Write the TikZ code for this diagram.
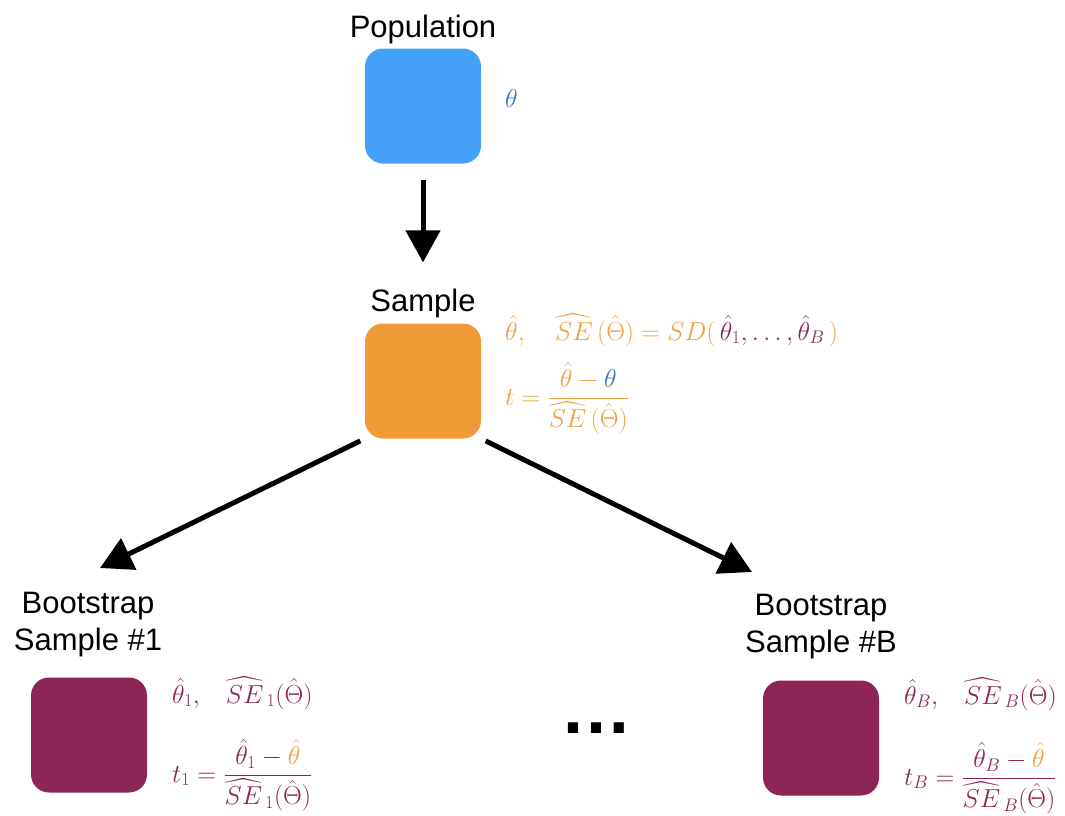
\RequirePackage{fix-cm}
\documentclass[tikz,border=0pt]{standalone}
\usepackage{amsmath}
\usepackage{fontspec}
\newfontfamily\labfont{Liberation Sans}
\usetikzlibrary{arrows.meta}
\definecolor{popblue}{HTML}{44A1F7}
\definecolor{sampor}{HTML}{F19A38}
\definecolor{bootpur}{HTML}{8B2657}
\definecolor{thetablue}{HTML}{3A78BA}
\definecolor{forange}{HTML}{F0A040}
\newcommand{\gapsep}{\mkern15mu}
\begin{document}
\begin{tikzpicture}[x=1pt,y=-1pt,
  box/.style={minimum width=116pt,minimum height=115pt,rounded corners=18pt,inner sep=0pt},
  lab/.style={font=\labfont\fontsize{31}{37}\selectfont,align=center,inner sep=0pt},
  fml/.style={font=\fontsize{26}{31}\selectfont,inner sep=0pt,anchor=base west},
  arr/.style={line width=5pt,-{Triangle[length=32pt,width=34pt]}}]
\useasboundingbox (0,0) rectangle (1065,815);

% population
\node[box,fill=popblue] (pop) at (423,106) {};
\node[lab,anchor=base] (poplab) at (423,37) {Population};
\node[fml,text=thetablue] (pth) at (505,107) {$\theta$};

% sample
\node[box,fill=sampor] (samp) at (423,381) {};
\node[lab,anchor=base] (samplab) at (423,311) {Sample};
\node[fml,text=forange] (sf1) at (505,340)
  {$\hat\theta,\quad \widehat{SE}\,(\hat\Theta) = SD(\,{\color{bootpur}\hat\theta_1,\ldots,\hat\theta_B}\,)$};
\node[fml,text=forange] (sf2) at (505,405)
  {$t = \dfrac{\hat\theta - {\color{thetablue}\theta}}{\widehat{SE}\,(\hat\Theta)}$};

% bootstrap sample 1
\node[box,fill=bootpur] (b1) at (89,735) {};
\node[lab] (b1lab) at (88,625) {Bootstrap\\Sample \#1};
\node[fml,text=bootpur] (b1f1) at (172,703)
  {$\hat\theta_1,\gapsep \widehat{SE}_{\,1}(\hat\Theta)$};
\node[fml,text=bootpur] (b1f2) at (172,782)
  {$t_1 = \dfrac{\hat\theta_1 - {\color{forange}\hat\theta}}{\widehat{SE}_{\,1}(\hat\Theta)}$};

% bootstrap sample B
\node[box,fill=bootpur] (bB) at (821,738) {};
\node[lab] (bBlab) at (821,627) {Bootstrap\\Sample \#B};
\node[fml,text=bootpur] (bBf1) at (904,704)
  {$\hat\theta_B,\gapsep \widehat{SE}_{\,B}(\hat\Theta)$};
\node[fml,text=bootpur] (bBf2) at (904,785)
  {$t_B = \dfrac{\hat\theta_B - {\color{forange}\hat\theta}}{\widehat{SE}_{\,B}(\hat\Theta)}$};

% ellipsis between the bootstrap samples
\node[font=\labfont\bfseries\fontsize{72}{72}\selectfont,anchor=base,inner sep=0pt] (dots) at (596,733) {…};

% arrows
\coordinate (t1) at (100,568);
\coordinate (tB) at (752,572);
\draw[arr,shorten <=16pt,shorten >=26pt] (pop.south) -- (samplab.north);
\draw[arr,shorten <=5pt] (samp.south west) -- (t1);
\draw[arr,shorten <=5pt] (samp.south east) -- (tB);
\end{tikzpicture}
\end{document}
